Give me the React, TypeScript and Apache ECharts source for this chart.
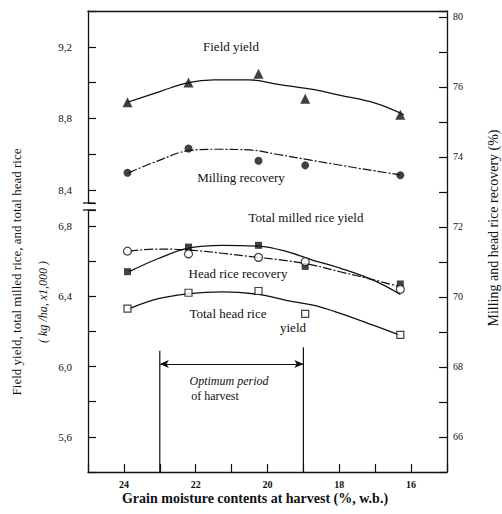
import React, { useEffect, useRef } from 'react';
import * as echarts from 'echarts';

// ---- Data ----
const moisture = [23.9, 22.2, 20.25, 18.95, 16.3];
const fieldYield = [8.89, 9.0, 9.05, 8.91, 8.82];
const millingRecovery = [73.55, 74.24, 73.89, 73.76, 73.48];
const totalMilledYield = [6.54, 6.68, 6.69, 6.57, 6.47];
const headRiceRecovery = [71.31, 71.23, 71.13, 71.01, 70.22];
const totalHeadYield = [6.33, 6.42, 6.43, 6.3, 6.18];

// fitted curves
const fieldCurveX = [23.9, 23.0, 22.2, 21.5, 20.5, 19.7, 18.7, 18.0, 17.0, 16.2];
const fieldCurveY = [8.89, 8.95, 9.0, 9.015, 9.015, 8.99, 8.96, 8.93, 8.885, 8.82];
const millingCurveX = [23.87, 23.0, 22.2, 21.45, 20.5, 19.7, 18.8, 18.0, 17.0, 16.3];
const millingCurveY = [73.55, 73.91, 74.18, 74.22, 74.2, 74.07, 73.91, 73.77, 73.6, 73.49];
const lowerCurveX = [23.85, 23.04, 22.18, 21.27, 20.25, 19.48, 18.73, 17.98, 17.04, 16.3];
const totalMilledCurveY = [6.54, 6.615, 6.675, 6.69, 6.685, 6.655, 6.605, 6.56, 6.49, 6.41];
const headRecoveryCurveY = [71.31, 71.37, 71.34, 71.25, 71.13, 71.04, 70.91, 70.72, 70.49, 70.29];
const totalHeadCurveY = [6.33, 6.387, 6.415, 6.425, 6.411, 6.377, 6.349, 6.303, 6.234, 6.177];

// optimum period of harvest
const optimumBounds = [23, 19];
const optimumTops = [6.09, 6.11];
const optimumArrowLevel = 6.015;

// tick labels
const xTickValues = [24, 22, 20, 18, 16];
const xTickLabels = ['24', '22', '20', '18', '16'];
const upperTickValues = [8.4, 8.8, 9.2];
const upperTickLabels = ['8,4', '8,8', '9,2'];
const lowerTickValues = [5.6, 6.0, 6.4, 6.8];
const lowerTickLabels = ['5,6', '6,0', '6,4', '6,8'];
const rightTickValues = [66, 68, 70, 72, 74, 76, 78];
const rightTickLabels = ['66', '68', '70', '72', '74', '76', '80'];

const FONT = '"Liberation Serif", "DejaVu Serif", serif';
const INK = '#111';

const zip = (xs: number[], ys: number[]) => xs.map((x, i) => [x, ys[i]]);
const fmt = (vals: number[], labels: string[]) => (v: number) => {
  const i = vals.findIndex((t) => Math.abs(t - v) < 1e-6);
  return i >= 0 ? labels[i] : '';
};

// layout
const L = 88;
const R = 447;
const TOP = 11;
const BOTTOM = 472;
const UPPER_BOTTOM = 203;
const LOWER_TOP = 210;

export default function App() {
  const ref = useRef<HTMLDivElement>(null);
  useEffect(() => {
    if (!ref.current) return;
    const chart = echarts.init(ref.current, undefined, { renderer: 'svg' });
    const axisLine = { show: true, onZero: false, lineStyle: { color: INK, width: 1.3 } };
    const tick = { show: true, inside: true, length: 8, lineStyle: { color: INK, width: 1.2 } };
    const label = { color: INK, fontFamily: FONT, fontSize: 11 };
    const solid = { color: INK, width: 1.3, type: 'solid' as const };
    const dashDot = { color: INK, width: 1.2, type: [9, 2, 2, 2] };
    const textStyle = (size: number, extra: any = {}) => ({
      font: `${extra.style || 'normal'} ${extra.weight || 'normal'} ${size}px ${FONT}`,
      fill: INK,
      align: 'center',
      verticalAlign: 'middle',
    });
    const txt = (text: string, x: number, y: number, size: number, extra: any = {}) => ({
      type: 'text',
      x,
      y,
      rotation: extra.rotation || 0,
      style: { text, ...textStyle(size, extra) },
      silent: true,
    });

    const option: any = {
      animation: false,
      backgroundColor: '#fff',
      grid: [
        { left: L, top: TOP, width: R - L, height: UPPER_BOTTOM - TOP },
        { left: L, top: LOWER_TOP, width: R - L, height: BOTTOM - LOWER_TOP },
        { left: L, top: TOP, width: R - L, height: BOTTOM - TOP },
      ],
      xAxis: [
        {
          gridIndex: 0, type: 'value', min: 15, max: 25, inverse: true, position: 'top',
          axisLine, axisTick: { show: false }, axisLabel: { show: false }, splitLine: { show: false },
        },
        { gridIndex: 1, type: 'value', min: 15, max: 25, inverse: true, show: false },
        {
          gridIndex: 2, type: 'value', min: 15, max: 25, interval: 1, inverse: true, position: 'bottom',
          axisLine, axisTick: tick,
          axisLabel: { ...label, fontSize: 10, fontWeight: 'bold', margin: 7, formatter: fmt(xTickValues, xTickLabels) },
          splitLine: { show: false },
        },
      ],
      yAxis: [
        {
          gridIndex: 0, type: 'value', min: 8.327, max: 9.4, minInterval: 0.2, maxInterval: 0.2, splitNumber: 5,
          position: 'left', axisLine, axisTick: tick,
          axisLabel: { ...label, margin: 16, formatter: fmt(upperTickValues, upperTickLabels) },
          splitLine: { show: false },
        },
        {
          gridIndex: 1, type: 'value', min: 5.4, max: 6.891, minInterval: 0.2, maxInterval: 0.2, splitNumber: 5,
          position: 'left', axisLine, axisTick: tick,
          axisLabel: { ...label, margin: 16, formatter: fmt(lowerTickValues, lowerTickLabels) },
          splitLine: { show: false },
        },
        {
          gridIndex: 2, type: 'value', min: 65, max: 78.17, minInterval: 1, maxInterval: 1, splitNumber: 13,
          position: 'right', axisLine, axisTick: tick,
          axisLabel: { ...label, fontSize: 10, margin: 6, formatter: fmt(rightTickValues, rightTickLabels) },
          splitLine: { show: false },
        },
      ],
      series: [
        // Field yield
        { type: 'line', xAxisIndex: 0, yAxisIndex: 0, data: zip(fieldCurveX, fieldCurveY), smooth: 0.4, showSymbol: false, lineStyle: solid, silent: true, z: 2 },
        { type: 'scatter', xAxisIndex: 0, yAxisIndex: 0, data: zip(moisture, fieldYield), symbol: 'triangle', symbolSize: 10, itemStyle: { color: INK }, z: 3 },
        // Milling recovery
        { type: 'line', xAxisIndex: 2, yAxisIndex: 2, data: zip(millingCurveX, millingCurveY), smooth: 0.4, showSymbol: false, lineStyle: dashDot, silent: true, z: 2 },
        { type: 'scatter', xAxisIndex: 2, yAxisIndex: 2, data: zip(moisture, millingRecovery), symbol: 'circle', symbolSize: 8, itemStyle: { color: INK }, z: 3 },
        // Total milled rice yield
        { type: 'line', xAxisIndex: 1, yAxisIndex: 1, data: zip(lowerCurveX, totalMilledCurveY), smooth: 0.4, showSymbol: false, lineStyle: solid, silent: true, z: 2 },
        { type: 'scatter', xAxisIndex: 1, yAxisIndex: 1, data: zip(moisture, totalMilledYield), symbol: 'rect', symbolSize: 7, itemStyle: { color: INK }, z: 3 },
        // Head rice recovery
        { type: 'line', xAxisIndex: 2, yAxisIndex: 2, data: zip(lowerCurveX, headRecoveryCurveY), smooth: 0.4, showSymbol: false, lineStyle: dashDot, silent: true, z: 2 },
        { type: 'scatter', xAxisIndex: 2, yAxisIndex: 2, data: zip(moisture, headRiceRecovery), symbol: 'circle', symbolSize: 8, itemStyle: { color: '#fff', borderColor: INK, borderWidth: 1.2 }, z: 4 },
        // Total head rice yield
        { type: 'line', xAxisIndex: 1, yAxisIndex: 1, data: zip(lowerCurveX, totalHeadCurveY), smooth: 0.4, showSymbol: false, lineStyle: solid, silent: true, z: 2 },
        { type: 'scatter', xAxisIndex: 1, yAxisIndex: 1, data: zip(moisture, totalHeadYield), symbol: 'rect', symbolSize: 7, itemStyle: { color: '#fff', borderColor: INK, borderWidth: 1.2 }, z: 4 },
        // Optimum period of harvest
        {
          type: 'line', xAxisIndex: 1, yAxisIndex: 1, showSymbol: false, silent: true, lineStyle: { color: INK, width: 1.2 },
          data: [[optimumBounds[0], 5.4], [optimumBounds[0], optimumTops[0]]],
          markLine: {
            silent: true, symbol: ['arrow', 'arrow'], symbolSize: [6, 9],
            label: { show: false }, lineStyle: { color: INK, width: 1, type: 'solid' },
            data: [[{ coord: [optimumBounds[0], optimumArrowLevel] }, { coord: [optimumBounds[1], optimumArrowLevel] }]],
          },
        },
        {
          type: 'line', xAxisIndex: 1, yAxisIndex: 1, showSymbol: false, silent: true, lineStyle: { color: INK, width: 1.2 },
          data: [[optimumBounds[1], 5.4], [optimumBounds[1], optimumTops[1]]],
        },
      ],
      graphic: [
        // axis break caps
        { type: 'line', shape: { x1: L - 5, y1: UPPER_BOTTOM, x2: L + 7, y2: UPPER_BOTTOM }, style: { stroke: INK, lineWidth: 1.3 }, silent: true },
        { type: 'line', shape: { x1: L - 5, y1: LOWER_TOP, x2: L + 8, y2: LOWER_TOP }, style: { stroke: INK, lineWidth: 1.3 }, silent: true },
        // annotations
        txt('Field yield', 231, 46, 13),
        txt('Milling recovery', 241, 177, 13),
        txt('Total milled rice yield', 306, 217, 13),
        txt('Head rice recovery', 238, 273, 13),
        txt('Total head rice', 228, 313, 13),
        txt('yield', 293, 327, 13),
        txt('Optimum period', 229, 381, 12, { style: 'italic' }),
        txt('of harvest', 215, 396, 12),
        // axis titles
        txt('Field yield, total milled rice, and total head rice', 16, 272, 13, { rotation: Math.PI / 2 }),
        txt('( kg /ha, x1,000 )', 43, 302, 12, { rotation: Math.PI / 2, style: 'italic' }),
        txt('Milling and head rice recovery (%)', 493, 228, 14, { rotation: Math.PI / 2 }),
        txt('Grain moisture contents at harvest (%, w.b.)', 255, 498, 14, { weight: 'bold' }),
      ],
    };
    chart.setOption(option);
    return () => chart.dispose();
  }, []);
  return <div ref={ref} style={{ position: 'absolute', left: 0, top: 0, width: 502, height: 514 }} />;
}
